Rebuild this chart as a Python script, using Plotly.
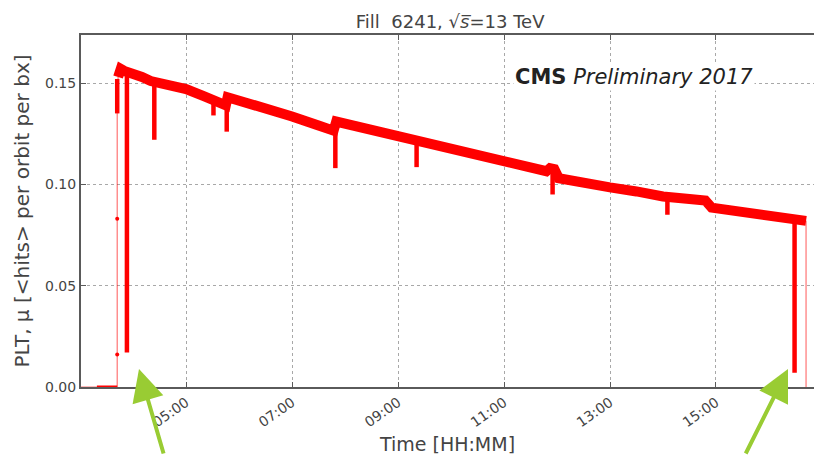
import plotly.graph_objects as go

DAY = "2017-09-26 "

# Stable-beam luminosity band (per-bunch pileup measured by the PLT)
band_clock = ["03:43", "03:46", "03:50", "04:00", "04:10", "04:20", "04:26", "04:40",
              "05:00", "05:20", "05:40", "05:45",
              "05:47", "06:00", "06:30", "07:00", "07:30", "07:47",
              "07:50", "08:00", "08:30", "09:00", "09:30", "10:00", "10:30",
              "11:00", "11:30", "11:48", "11:52", "11:57", "12:02", "12:30",
              "13:00", "13:30", "14:00", "14:30", "14:48",
              "14:55", "15:30", "16:00", "16:28", "16:42"]
band_mu = [0.153, 0.157, 0.156, 0.155, 0.153, 0.151, 0.1505, 0.149,
           0.147, 0.1435, 0.140, 0.139,
           0.143, 0.1415, 0.1375, 0.1335, 0.129, 0.1265,
           0.131, 0.130, 0.1265, 0.1235, 0.1205, 0.1175, 0.1145,
           0.1115, 0.1085, 0.1065, 0.108, 0.1075, 0.103, 0.1005,
           0.0985, 0.0965, 0.094, 0.0928, 0.092,
           0.0885, 0.0865, 0.0845, 0.0828, 0.082]

# Short drops in the rate (time, level before the drop, lowest value)
dip_clock = ["03:42", "03:53", "04:24", "05:31", "05:46", "07:49",
             "09:21", "11:55", "14:05", "16:29"]
dip_top = [0.152, 0.155, 0.151, 0.1415, 0.139, 0.127,
           0.121, 0.107, 0.094, 0.083]
dip_min = [0.135, 0.017, 0.122, 0.134, 0.126, 0.108,
           0.1085, 0.095, 0.085, 0.007]

# Ramp-up at the start of the fill and beam dump at the end
ramp_clock = ["03:01", "03:42", "03:42", "03:43"]
ramp_mu = [0.0, 0.0, 0.135, 0.153]
dump_clock = ["16:42", "16:42"]
dump_mu = [0.082, 0.0]
noise_clock = ["03:19", "03:42"]
noise_mu = [0.0, 0.0]
dot_clock = ["03:42", "03:42"]
dot_mu = [0.083, 0.016]

tick_clock = ["05:00", "07:00", "09:00", "11:00", "13:00", "15:00"]
y_ticks = [0.0, 0.05, 0.10, 0.15]


def ts(c):
    return DAY + c


RED = "#ff0000"
THIN = "rgba(255,0,0,0.55)"
GRID = "#a8a8a8"
AXIS = "#5a5a5a"
TXT = "#444444"
FONT = "DejaVu Sans"

fig = go.Figure()

fig.add_trace(go.Scatter(x=[ts(c) for c in ramp_clock], y=ramp_mu, mode="lines",
                         line=dict(color=THIN, width=1.2), hoverinfo="skip"))
fig.add_trace(go.Scatter(x=[ts(c) for c in dump_clock], y=dump_mu, mode="lines",
                         line=dict(color=THIN, width=1.2), hoverinfo="skip"))
fig.add_trace(go.Scatter(x=[ts(c) for c in noise_clock], y=noise_mu, mode="lines",
                         line=dict(color=RED, width=3), hoverinfo="skip"))
fig.add_trace(go.Scatter(x=[ts(c) for c in dot_clock], y=dot_mu, mode="markers",
                         marker=dict(color=RED, size=4), hoverinfo="skip"))

dx, dy = [], []
for c, top, low in zip(dip_clock, dip_top, dip_min):
    dx += [ts(c), ts(c), None]
    dy += [top, low, None]
fig.add_trace(go.Scatter(x=dx, y=dy, mode="lines",
                         line=dict(color=RED, width=4.5), hoverinfo="skip"))

fig.add_trace(go.Scatter(x=[ts(c) for c in band_clock], y=band_mu, mode="lines",
                         line=dict(color=RED, width=10), hoverinfo="skip"))

fig.update_layout(
    width=814, height=455,
    margin=dict(l=81, r=0, t=35, b=68),
    paper_bgcolor="white", plot_bgcolor="white",
    showlegend=False,
    font=dict(family=FONT, color=TXT),
    title=dict(text="Fill&nbsp; 6241, √<i>s\u0305</i>=13 TeV", x=0.553, xanchor="center",
               y=1 - 22 / 455, yanchor="middle", font=dict(size=18, color=TXT)),
)

fig.update_xaxes(
    type="date",
    range=[ts("03:01"), ts("16:51")],
    tickvals=[ts(c) for c in tick_clock],
    tickformat="%H:%M",
    tickangle=-35,
    tickfont=dict(size=14, color=TXT),
    showgrid=True, gridcolor=GRID, griddash="dot", gridwidth=1,
    showline=True, linecolor=AXIS, linewidth=2, mirror="ticks",
    ticks="inside", ticklen=5, tickcolor=AXIS,
    zeroline=False,
    title=dict(text="Time [HH:MM]", font=dict(size=19, color=TXT), standoff=10),
)

fig.update_yaxes(
    range=[0, 0.1737],
    tickvals=y_ticks,
    tickformat=".2f",
    tickfont=dict(size=14, color=TXT),
    showgrid=True, gridcolor=GRID, griddash="dot", gridwidth=1,
    showline=True, linecolor=AXIS, linewidth=2, mirror=False,
    ticks="inside", ticklen=5, tickcolor=AXIS,
    zeroline=False,
    title=dict(text="PLT, μ [&lt;hits&gt; per orbit per bx]",
               font=dict(size=20, color=TXT), standoff=10),
)

fig.add_annotation(
    xref="paper", yref="paper", x=(513 - 81) / 733, y=(387 - 77) / 352,
    xanchor="left", yanchor="middle", showarrow=False,
    text="<b>CMS</b> <i>Preliminary 2017</i>",
    font=dict(size=21, color="#222222", family=FONT),
    bgcolor="white",
)

ARROW = "#99cc33"
for tip_x, tip_y, off_x, off_y in [(139, 369, 25, 88), (788, 369, -43, 88)]:
    fig.add_annotation(
        xref="paper", yref="paper",
        x=(tip_x - 81) / 733, y=(387 - tip_y) / 352,
        ax=off_x, ay=off_y, text="", showarrow=True,
        arrowhead=2, arrowsize=1.6, arrowwidth=4, arrowcolor=ARROW,
        standoff=0, startstandoff=0,
    )

fig.write_html("out.html")
